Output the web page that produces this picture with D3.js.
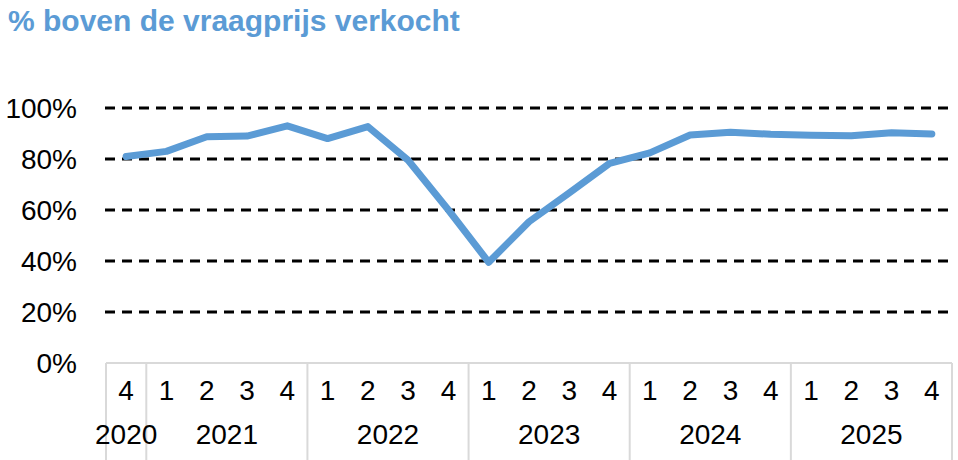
<!DOCTYPE html>
<html>
<head>
<meta charset="utf-8">
<script src="https://cdn.jsdelivr.net/npm/d3@7"></script>
<style>
  body { margin: 0; background: #fff; }
  svg { display: block; font-family: "Liberation Sans", Arial, sans-serif; }
</style>
</head>
<body>
<div id="chart"></div>
<script>
// quarters from 2020 Q4 to 2025 Q4
const quarters = ["4", "1", "2", "3", "4", "1", "2", "3", "4", "1", "2", "3", "4", "1", "2", "3", "4", "1", "2", "3", "4"];
const years = ["2020", "2021", "2022", "2023", "2024", "2025"];
const yearQuarterCount = [1, 4, 4, 4, 4, 4];
const pctAboveAsking = [81, 83, 88.7, 89, 93, 88, 92.7, 79.5, 60, 39.5, 55.4, 66.7, 78.3, 82.4, 89.4, 90.5, 89.7, 89.3, 89.1, 90.3, 89.8];
const yTicks = [0, 20, 40, 60, 80, 100];

const width = 958, height = 460;
const margin = { left: 106, right: 6, top: 108, bottom: 97 };

const svg = d3.select('#chart').append('svg')
    .attr('width', width)
    .attr('height', height);

const x = d3.scaleBand()
    .domain(d3.range(quarters.length))
    .range([margin.left, width - margin.right])
    .padding(0);

const y = d3.scaleLinear()
    .domain([0, 100])
    .range([height - margin.bottom, margin.top]);

// title
svg.append('text')
    .attr('x', 8)
    .attr('y', 31)
    .style('font-size', '30px')
    .style('font-weight', 'bold')
    .style('fill', '#5b9bd5')
    .text('% boven de vraagprijs verkocht');

// dashed gridlines (not at 0)
svg.append('g')
    .selectAll('line')
    .data(yTicks.filter(d => d > 0))
    .enter().append('line')
    .attr('x1', margin.left - 1)
    .attr('x2', width - 8)
    .attr('y1', d => y(d))
    .attr('y2', d => y(d))
    .style('stroke', '#000')
    .style('stroke-width', 3)
    .style('stroke-dasharray', '10,7');

// y labels
svg.append('g')
    .selectAll('text')
    .data(yTicks)
    .enter().append('text')
    .attr('x', 77)
    .attr('y', d => y(d))
    .attr('dy', '0.35em')
    .attr('text-anchor', 'end')
    .style('font-size', '28px')
    .style('fill', '#000')
    .text(d => d + '%');

// category axis
const axisY = y(0);
svg.append('line')
    .attr('x1', margin.left)
    .attr('x2', width - margin.right)
    .attr('y1', axisY)
    .attr('y2', axisY)
    .style('stroke', '#d9d9d9')
    .style('stroke-width', 2);

// year group boundaries
const starts = d3.cumsum([0].concat(yearQuarterCount));
svg.append('g')
    .selectAll('line')
    .data(starts)
    .enter().append('line')
    .attr('x1', d => d < quarters.length ? x(d) : x(quarters.length - 1) + x.bandwidth())
    .attr('x2', d => d < quarters.length ? x(d) : x(quarters.length - 1) + x.bandwidth())
    .attr('y1', axisY)
    .attr('y2', height)
    .style('stroke', '#d9d9d9')
    .style('stroke-width', 2);

svg.append('g')
    .selectAll('text')
    .data(quarters)
    .enter().append('text')
    .attr('x', (d, i) => x(i) + x.bandwidth() / 2)
    .attr('y', 400)
    .attr('text-anchor', 'middle')
    .style('font-size', '28px')
    .text(d => d);

svg.append('g')
    .selectAll('text')
    .data(years)
    .enter().append('text')
    .attr('x', (d, i) => (x(starts[i]) + x(starts[i + 1] - 1) + x.bandwidth()) / 2)
    .attr('y', 444)
    .attr('text-anchor', 'middle')
    .style('font-size', '28px')
    .text(d => d);

// line
const line = d3.line()
    .x((d, i) => x(i) + x.bandwidth() / 2)
    .y(d => y(d));

svg.append('path')
    .datum(pctAboveAsking)
    .attr('d', line)
    .style('fill', 'none')
    .style('stroke', '#5b9bd5')
    .style('stroke-width', 7)
    .style('stroke-linejoin', 'round')
    .style('stroke-linecap', 'round');
</script>
</body>
</html>
